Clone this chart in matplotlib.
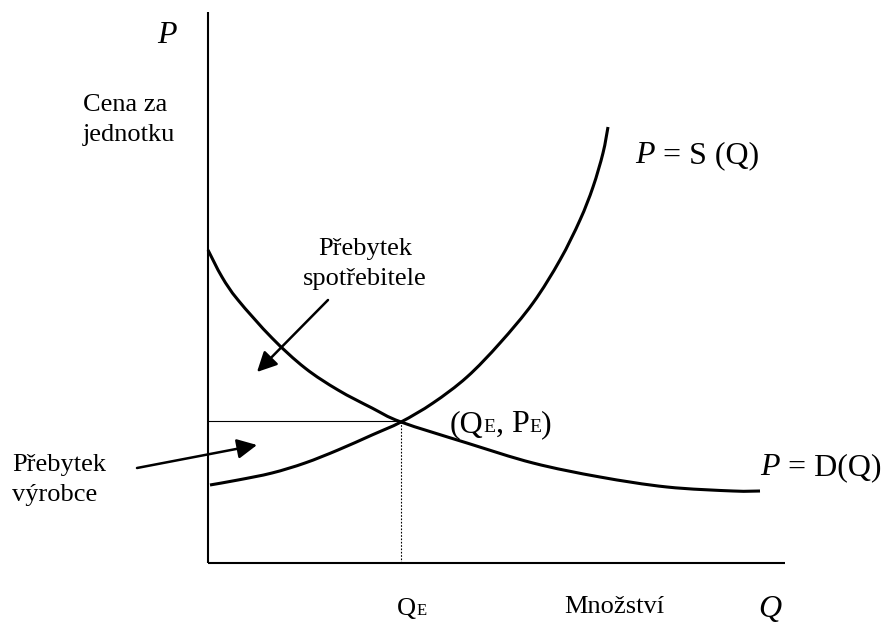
import matplotlib
matplotlib.use("Agg")
import matplotlib.pyplot as plt
from matplotlib.path import Path
from matplotlib.patches import PathPatch
import numpy as np

# demand curve P = D(Q)
demand_q = [0.0, 1.4, 3.0, 6.4, 9.7, 13.0, 16.4, 19.3, 25.9, 32.5, 39.2, 45.9, 52.5, 55.2]
demand_p = [31.3, 28.6, 26.3, 22.5, 19.5, 17.3, 15.5, 14.1, 12.0, 10.0, 8.6, 7.6, 7.2, 7.2]

# supply curve P = S(Q)
supply_q = [0.2, 3.0, 6.4, 9.7, 13.0, 16.4, 19.3, 22.5, 25.9, 29.2, 32.5, 35.2, 37.2, 38.5, 39.5, 40.0]
supply_p = [7.8, 8.3, 9.0, 10.0, 11.3, 12.8, 14.1, 16.0, 18.6, 22.0, 26.0, 30.3, 34.3, 37.6, 41.0, 43.6]

# equilibrium and axis extents
q_e, p_e = 19.3, 14.2
q_max, p_max = 57.7, 55.1

SERIF = "Liberation Serif"

fig = plt.figure(figsize=(8.83, 6.25), dpi=100)
ax = fig.add_axes([0, 0, 1, 1])
ax.set_xlim(-20.8, 67.5)
ax.set_ylim(-6.2, 56.3)
ax.axis("off")


def smooth_curve(qs, ps, **kw):
    # draw a smooth Bezier path through the read points (Catmull-Rom handles)
    pts = np.column_stack([qs, ps])
    verts = [pts[0]]
    codes = [Path.MOVETO]
    n = len(pts)
    for i in range(n - 1):
        p0 = pts[i - 1] if i > 0 else pts[i]
        p1, p2 = pts[i], pts[i + 1]
        p3 = pts[i + 2] if i + 2 < n else pts[i + 1]
        verts += [p1 + (p2 - p0) / 6, p2 - (p3 - p1) / 6, p2]
        codes += [Path.CURVE4] * 3
    ax.add_patch(PathPatch(Path(verts, codes), fill=False, **kw))


# axes
ax.plot([0, 0], [0, p_max], color="black", lw=1.5, solid_capstyle="butt")
ax.plot([0, q_max], [0, 0], color="black", lw=1.5, solid_capstyle="butt")

# equilibrium guides
ax.plot([0, q_e], [p_e, p_e], color="black", lw=0.8)
ax.plot([q_e, q_e], [0, p_e], color="black", lw=0.8, linestyle=(0, (1.5, 1.5)))

# curves
smooth_curve(demand_q, demand_p, edgecolor="black", lw=2.2)
smooth_curve(supply_q, supply_p, edgecolor="black", lw=2.2)

# arrows to the surplus areas
arrow = dict(arrowstyle="-|>", mutation_scale=30, lw=1.8, color="black",
             shrinkA=0, shrinkB=0)
ax.annotate("", xy=(4.9, 19.1), xytext=(12.0, 26.3), arrowprops=arrow)
ax.annotate("", xy=(4.9, 11.8), xytext=(-7.1, 9.5), arrowprops=arrow)

renderer = fig.canvas.get_renderer()


def draw_runs(x, y, runs):
    # text pieces of different size/style sharing one baseline
    for s, size, style in runs:
        t = ax.text(x, y, s, fontsize=size, fontstyle=style, family=SERIF,
                    va="baseline", ha="left")
        bb = t.get_window_extent(renderer=renderer)
        x = ax.transData.inverted().transform((bb.x1, bb.y0))[0]


# plain labels
ax.text(-5.1, 52.0, "P", fontsize=23, fontstyle="italic", family=SERIF, va="baseline")
ax.text(-12.5, 45.2, "Cena za", fontsize=19, family=SERIF, va="baseline")
ax.text(-12.5, 42.2, "jednotku", fontsize=19, family=SERIF, va="baseline")

ax.text(15.7, 30.8, "Přebytek", fontsize=19, family=SERIF, va="baseline", ha="center")
ax.text(15.7, 27.8, "spotřebitele", fontsize=19, family=SERIF, va="baseline", ha="center")

ax.text(-19.6, 9.2, "Přebytek", fontsize=19, family=SERIF, va="baseline")
ax.text(-19.6, 6.2, "výrobce", fontsize=19, family=SERIF, va="baseline")

ax.text(40.6, -5.0, "Množství", fontsize=19, family=SERIF, va="baseline", ha="center")
ax.text(55.0, -5.4, "Q", fontsize=23, fontstyle="italic", family=SERIF, va="baseline")

# labels with small E
draw_runs(42.7, 40.0, [("P", 23, "italic"), (" = S (Q)", 23, "normal")])
draw_runs(55.2, 8.8, [("P", 23, "italic"), (" = D(Q)", 23, "normal")])
draw_runs(24.2, 13.1, [("(Q", 23, "normal"), ("E", 14, "normal"), (", P", 23, "normal"),
                       ("E", 14, "normal"), (")", 23, "normal")])
draw_runs(18.9, -5.2, [("Q", 19, "normal"), ("E", 12, "normal")])

fig.savefig("out.png", dpi=100)
